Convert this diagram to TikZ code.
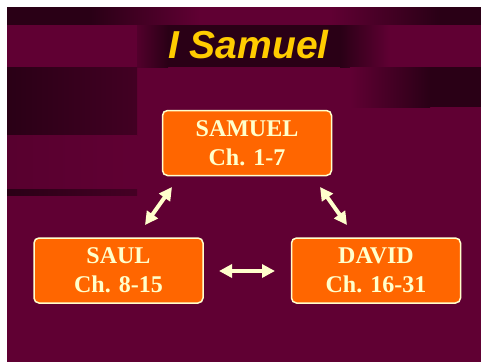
\documentclass[tikz,border=0pt]{standalone}
\usepackage{fontspec}
\setmainfont{Liberation Serif}
\newfontfamily\titlefont{Liberation Sans}
\usetikzlibrary{arrows.meta}
\definecolor{bgm}{HTML}{600033}
\definecolor{dk}{HTML}{2A0016}
\definecolor{cream}{HTML}{FFFFCC}
\definecolor{boxorange}{HTML}{FF6600}
\definecolor{titleyellow}{HTML}{FFCC00}
\tikzset{
  chapterbox/.style={draw=cream, line width=1.5pt, fill=boxorange, rounded corners=5pt,
    text=cream, font=\fontsize{24}{29}\selectfont\bfseries, align=center,
    minimum width=169pt, minimum height=65pt, inner sep=0pt},
  linkarrow/.style={draw=cream, line width=4pt,
    {Triangle[length=13pt,width=13pt]}-{Triangle[length=13pt,width=13pt]}}
}
\begin{document}
\begin{tikzpicture}[x=1pt,y=-1pt]
\useasboundingbox (0,0) rectangle (481,362);
\fill[white] (0,0) rectangle (481,362);
% background
\fill[bgm] (7,7) rectangle (481,362);
% top band
\fill[dk] (7,7) rectangle (90,25);
\shade[left color=dk, right color=bgm] (90,7) rectangle (200,25);
\fill[bgm] (200,7) rectangle (330,25);
\shade[left color=bgm, right color=dk] (330,7) rectangle (440,25);
\fill[dk] (440,7) rectangle (481,25);
% title band
\fill[bgm] (7,25) rectangle (481,67);
\shade[left color=bgm!75!dk, right color=dk] (137,25) rectangle (168,67);
\fill[dk] (168,25) rectangle (340,67);
\shade[left color=dk, right color=bgm] (340,25) rectangle (390,67);
% left block
\shade[left color=dk, right color=dk!55!bgm] (7,67) rectangle (137,135);
\shade[left color=bgm!85!dk, right color=bgm] (7,135) rectangle (137,189);
\shade[left color=dk, right color=dk!50!bgm] (7,189) rectangle (137,195);
% right block
\shade[left color=bgm, right color=dk] (350,67) rectangle (430,107);
\fill[dk] (430,67) rectangle (481,107);
% title
\node[anchor=base, text=titleyellow, font=\titlefont\bfseries\itshape\fontsize{39}{44}\selectfont, inner sep=0pt] (title) at (248.5,58) {I Samuel};
% boxes
\node[chapterbox] (samuel) at (247,143) {SAMUEL\\Ch. 1-7};
\node[chapterbox] (saul) at (118.5,270.5) {SAUL\\Ch. 8-15};
\node[chapterbox] (david) at (376,270.5) {DAVID\\Ch. 16-31};
% arrow ends
\coordinate (l1) at (145,225);
\coordinate (l2) at (172,187);
\coordinate (r1) at (320,187);
\coordinate (r2) at (347,225);
\coordinate (h1) at (219,271);
\coordinate (h2) at (275,271);
\draw[linkarrow] (l1) -- (l2);
\draw[linkarrow] (r1) -- (r2);
\draw[linkarrow] (h1) -- (h2);
\end{tikzpicture}
\end{document}
